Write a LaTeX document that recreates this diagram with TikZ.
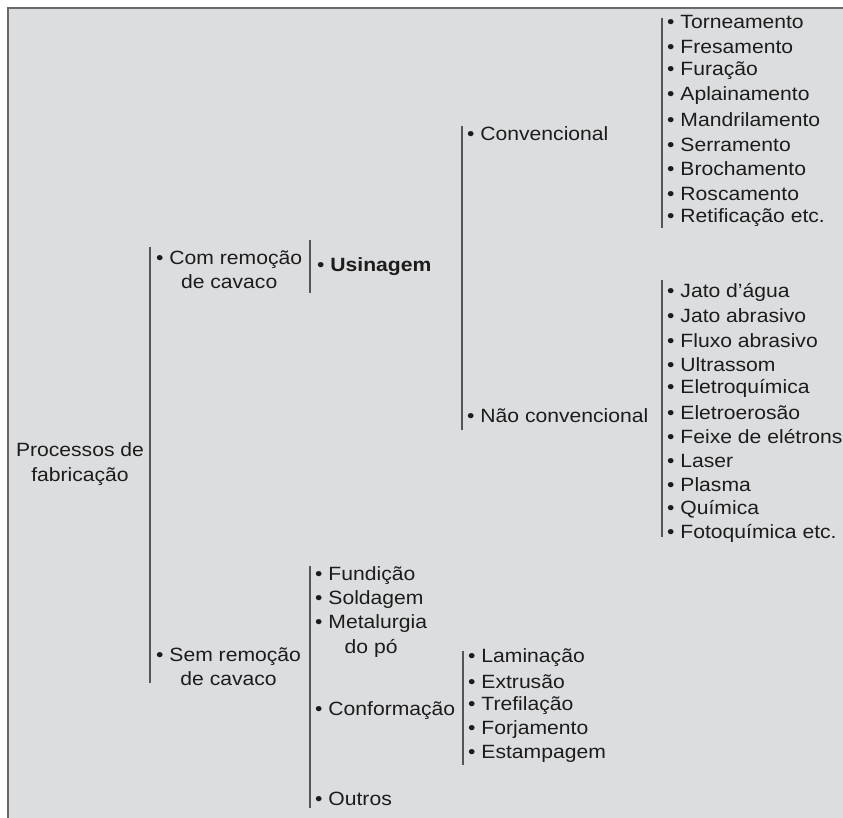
\documentclass[tikz,border=0pt]{standalone}
\usepackage{fontspec}
\setmainfont{Liberation Sans}[FakeStretch=1.1]
\definecolor{bgc}{HTML}{DCDDDF}
\definecolor{framec}{HTML}{6A6A6A}
\definecolor{linec}{HTML}{555555}
\definecolor{textc}{HTML}{1C1C1C}
\tikzset{
  txt/.style={inner sep=0pt, text=textc, font=\fontsize{19.2}{24.3}\selectfont, align=center},
  item/.style={txt, anchor=west, align=left},
  brk/.style={draw=linec, line width=1.1pt}
}
\begin{document}
\begin{tikzpicture}[x=1pt,y=-1pt]
\useasboundingbox (0,0) rectangle (843,818);
\fill[bgc] (8,8) rectangle (843,818);
\draw[framec, line width=2pt] (8,818) -- (8,8) -- (843,8);

% level 0
\node[txt] (proc) at (80,464) {Processos de\\fabricação};
\draw[brk] (150,247) -- (150,683);

% level 1
\node[txt, anchor=west] (com) at (156,270) {• Com remoção\\de cavaco};
\node[txt, anchor=west] (sem) at (156,667) {• Sem remoção\\de cavaco};

% Usinagem
\draw[brk] (310,240) -- (310,293);
\node[item] (usi) at (317,267) {• \textbf{Usinagem}};

\draw[brk] (462,126) -- (462,430);
\node[item] (conv) at (467,134) {• Convencional};
\node[item] (nconv) at (467,416) {• Não convencional};

% conventional list
\draw[brk] (662,18) -- (662,228);
\foreach \t [count=\i from 0] in {Torneamento, Fresamento, Furação, Aplainamento, Mandrilamento, Serramento, Brochamento, Roscamento, Retificação etc.}
  \node[item] (c\i) at (667,{22+24.5*\i}) {• \t};

% non-conventional list
\draw[brk] (662,280) -- (662,537);
\foreach \t [count=\i from 0] in {Jato d’água, Jato abrasivo, Fluxo abrasivo, Ultrassom, Eletroquímica, Eletroerosão, Feixe de elétrons, Laser, Plasma, Química, Fotoquímica etc.}
  \node[item] (n\i) at (667,{292+24.1*\i}) {• \t};

% Sem remoção list
\draw[brk] (310,566) -- (310,808);
\node[item] (fund) at (315,576) {• Fundição};
\node[item] (sold) at (315,600) {• Soldagem};
\node[txt, anchor=west] (met) at (315,636) {• Metalurgia\\do pó};
\node[item] (conf) at (315,711) {• Conformação};
\node[item] (out) at (315,799) {• Outros};

% Conformação list
\draw[brk] (463,651) -- (463,765);
\foreach \t [count=\i from 0] in {Laminação, Extrusão, Trefilação, Forjamento, Estampagem}
  \node[item] (f\i) at (468,{658+24*\i}) {• \t};
\end{tikzpicture}
\end{document}
